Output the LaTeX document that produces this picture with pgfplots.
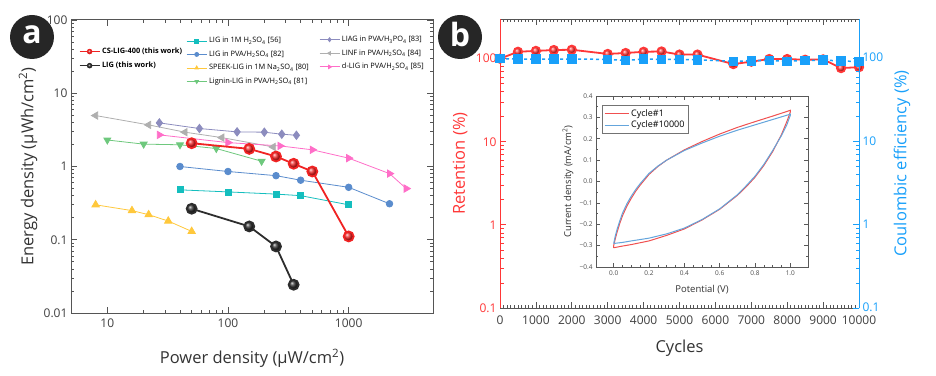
\documentclass[border=0pt]{standalone}
\usepackage{pgfplots}
\pgfplotsset{compat=1.18}
\usepackage{fontspec}
\setmainfont{Open Sans}
\definecolor{cRed}{RGB}{240,35,35}
\definecolor{cBlk}{RGB}{45,45,45}
\definecolor{cCyan}{RGB}{20,190,190}
\definecolor{cBlue}{RGB}{90,140,205}
\definecolor{cYel}{RGB}{255,200,60}
\definecolor{cGreen}{RGB}{110,200,125}
\definecolor{cPur}{RGB}{140,140,190}
\definecolor{cGray}{RGB}{175,175,175}
\definecolor{cPink}{RGB}{255,110,200}
\definecolor{bRed}{RGB}{255,55,55}
\definecolor{bBlue}{RGB}{25,160,250}
\definecolor{axGray}{RGB}{85,85,85}
\definecolor{cvRed}{RGB}{240,80,80}
\definecolor{cvBlue}{RGB}{100,165,220}
\begin{document}
\begin{tikzpicture}[x=1pt,y=1pt]
\useasboundingbox (0,0) rectangle (936,375);
% ---- panel a: literature series, legend 2
\begin{axis}[at={(71pt,62pt)}, anchor=south west, scale only axis,
    width=362pt, height=293pt, xmode=log, ymode=log,
    xmin=5, xmax=5000, ymin=0.01, ymax=100, hide axis,
  legend style={draw=none, fill=none, inner sep=0pt, row sep=2.6pt,
    font=\fontsize{7.4}{8}\selectfont, cells={anchor=west},
    at={(axis description cs:0.318,0.948)}, anchor=north west},
  legend image code/.code={\draw[mark repeat=2,mark phase=2] plot coordinates {(0pt,0pt) (10pt,0pt) (20pt,0pt)};},
  every legend image post/.style={mark size=2pt}]
\addplot[cCyan, line width=0.8pt, mark=square*, mark size=3pt] coordinates {(40,0.48) (100,0.45) (250,0.42) (400,0.40) (1000,0.30)};
\addlegendentry{LIG in 1M H\textsubscript{2}SO\textsubscript{4} [56]}
\addplot[cBlue, line width=0.8pt, mark=*, mark size=3.3pt] coordinates {(40,1.0) (100,0.855) (250,0.75) (400,0.65) (1000,0.52) (2180,0.31)};
\addlegendentry{LIG in PVA/H\textsubscript{2}SO\textsubscript{4} [82]}
\addplot[cYel, line width=0.8pt, mark=triangle*, mark size=4.3pt] coordinates {(8,0.30) (16,0.25) (22,0.22) (32,0.18) (50,0.13)};
\addlegendentry{SPEEK-LIG in 1M Na\textsubscript{2}SO\textsubscript{4} [80]}
\addplot[cGreen, line width=0.8pt, mark=triangle*, mark size=4pt, mark options={rotate=180}] coordinates {(10,2.3) (20,2.02) (40,1.98) (80,1.76) (190,1.18)};
\addlegendentry{Lignin-LIG in PVA/H\textsubscript{2}SO\textsubscript{4} [81]}
\end{axis}
% ---- legend 3
\begin{axis}[at={(71pt,62pt)}, anchor=south west, scale only axis,
    width=362pt, height=293pt, xmode=log, ymode=log,
    xmin=5, xmax=5000, ymin=0.01, ymax=100, hide axis,
  legend style={draw=none, fill=none, inner sep=0pt, row sep=2.6pt,
    font=\fontsize{7.4}{8}\selectfont, cells={anchor=west},
    at={(axis description cs:0.685,0.952)}, anchor=north west},
  legend image code/.code={\draw[mark repeat=2,mark phase=2] plot coordinates {(0pt,0pt) (10pt,0pt) (20pt,0pt)};},
  every legend image post/.style={mark size=2pt}]
\addplot[cPur, line width=0.8pt, mark=diamond*, mark size=4.2pt] coordinates {(27,3.94) (58,3.3) (119,2.97) (200,2.94) (279,2.76) (369,2.67)};
\addlegendentry{LIAG in PVA/H\textsubscript{3}PO\textsubscript{4} [83]}
\addplot[cGray, line width=0.8pt, mark=triangle*, mark size=4.2pt, mark options={rotate=90}] coordinates {(8,4.96) (22,3.7) (44,2.94) (89,2.48) (237,1.85)};
\addlegendentry{LINF in PVA/H\textsubscript{2}SO\textsubscript{4} [84]}
\addplot[cPink, line width=0.8pt, mark=triangle*, mark size=4.2pt, mark options={rotate=-90}] coordinates {(27,2.70) (100,2.12) (270,1.91) (500,1.69) (1000,1.30) (2180,0.80) (3000,0.50)};
\addlegendentry{d-LIG in PVA/H\textsubscript{2}SO\textsubscript{4} [85]}
\end{axis}
% ---- main axis a
\begin{axis}[at={(71pt,62pt)}, anchor=south west, scale only axis,
    width=362pt, height=293pt, xmode=log, ymode=log,
    xmin=5, xmax=5000, ymin=0.01, ymax=100,
  legend style={draw=none, fill=none, inner sep=0pt, row sep=3pt,
    font=\fontsize{7.4}{8}\selectfont\bfseries, cells={anchor=west},
    at={(axis description cs:0.022,0.912)}, anchor=north west},
  legend image code/.code={\draw[mark repeat=2,mark phase=2] plot coordinates {(0pt,0pt) (10pt,0pt) (20pt,0pt)};},
  every legend image post/.style={mark size=2.3pt, line width=0.9pt},
  xtick={10,100,1000}, xticklabels={10,100,1000},
  ytick={0.01,0.1,1,10,100}, yticklabels={0.01,0.1,1,10,100},
  tick align=inside, axis line style={draw=axGray, line width=1pt},
  tick style={axGray, line width=0.8pt}, major tick length=6pt, minor tick length=3.5pt,
  ticklabel style={font=\fontsize{12}{13}\selectfont, text=black!75},
  xticklabel style={yshift=-2pt},
  every axis x label/.style={at={(axis description cs:0.5,0)}, anchor=center, yshift=-45pt},
  every axis y label/.style={at={(axis description cs:0,0.5)}, xshift=-43pt, rotate=90, anchor=center},
  label style={font=\fontsize{16.5}{18}\selectfont, text=black!80},
  xlabel={Power density (µW/cm\textsuperscript{2})},
  ylabel={Energy density (µWh/cm\textsuperscript{2})}]
\addplot[cRed, line width=1.8pt, mark=ball, mark size=5pt, mark options={ball color=cRed}] coordinates {(50,2.08) (150,1.74) (250,1.37) (350,1.09) (500,0.855) (1000,0.111)};
\addlegendentry{CS-LIG-400 (this work)}
\addplot[cBlk, line width=1.8pt, mark=ball, mark size=5pt, mark options={ball color=cBlk}] coordinates {(50,0.265) (150,0.152) (250,0.081) (350,0.0243)};
\addlegendentry{LIG (this work)}
\end{axis}
% ---- panel b: retention
\begin{axis}[at={(500pt,67pt)}, anchor=south west, scale only axis,
  width=359pt, height=289pt, xmin=0, xmax=10000, ymode=log, ymin=0.1, ymax=300,
  axis y line*=left, scaled x ticks=false,
  xtick={0,1000,2000,3000,4000,5000,6000,7000,8000,9000,10000},
  xticklabels={0,1000,2000,3000,4000,5000,6000,7000,8000,9000,10000},
  minor x tick num=9,
  ytick={0.1,1,10,100}, yticklabels={0.1,1,10,100},
  tick align=inside, major tick length=6pt, minor tick length=3.5pt,
  x axis line style={draw=axGray, line width=1pt},
  y axis line style={draw=bRed, line width=1pt},
  every x tick/.append style={axGray, line width=0.8pt},
  every y tick/.append style={bRed, line width=0.8pt},
  xticklabel style={font=\fontsize{12}{13}\selectfont, text=black!75, yshift=-4pt},
  yticklabel style={font=\fontsize{12}{13}\selectfont, text=bRed},
  every axis x label/.style={at={(axis description cs:0.5,0)}, anchor=center, yshift=-40pt},
  every axis y label/.style={at={(axis description cs:0,0.5)}, xshift=-40pt, rotate=90, anchor=center},
  xlabel style={font=\fontsize{16.5}{18}\selectfont, text=black!80},
  ylabel style={font=\fontsize{16.5}{18}\selectfont, text=bRed},
  xlabel={Cycles}, ylabel={Retention (\%)}]
\addplot[bRed, line width=1.8pt, mark=ball, mark size=4.2pt, mark options={ball color=bRed}] coordinates {
(0,100) (500,121) (1000,124) (1500,127) (2000,128) (3000,114) (3500,117) (4000,121) (4500,122) (5000,112) (5500,112) (6500,86) (7000,92) (7500,99) (8000,99) (8500,97) (9000,98) (9500,77) (10000,79)};
\end{axis}
% ---- panel b: coulombic efficiency
\begin{axis}[at={(500pt,67pt)}, anchor=south west, scale only axis,
  width=359pt, height=289pt, xmin=0, xmax=10000, ymode=log, ymin=0.1, ymax=300,
  axis y line*=right, axis x line=none, scaled x ticks=false,
  ytick={0.1,1,10,100}, yticklabels={0.1,1,10,100},
  tick align=inside, major tick length=6pt, minor tick length=3.5pt,
  y axis line style={draw=bBlue, line width=1pt},
  every y tick/.append style={bBlue, line width=0.8pt},
  yticklabel style={font=\fontsize{12}{13}\selectfont, text=bBlue, yshift=1pt},
  every axis y label/.style={at={(axis description cs:1,0.5)}, xshift=43pt, rotate=90, anchor=center},
  ylabel style={font=\fontsize{16.5}{18}\selectfont, text=bBlue},
  ylabel={Coulombic efficiency (\%)}]
\addplot[bBlue, line width=1.5pt, dashed, mark=square*, mark size=4pt, mark options={solid}] coordinates {
(0,100) (500,99) (1000,99) (1500,99) (2000,99) (3000,98) (3500,95) (4000,99) (4500,98) (5000,98) (5500,97) (6500,93) (7000,94) (7500,95) (8000,93) (8500,95) (9000,96) (9500,94) (10000,92)};
\end{axis}
% ---- inset CV
\begin{axis}[at={(596pt,108pt)}, anchor=south west, scale only axis,
  width=212pt, height=171pt, xmin=-0.1, xmax=1.1, ymin=-0.4, ymax=0.4,
  axis background/.style={fill=white},
  xtick={0,0.2,0.4,0.6,0.8,1.0}, xticklabels={0.0,0.2,0.4,0.6,0.8,1.0},
  ytick={-0.4,-0.3,-0.2,-0.1,0,0.1,0.2,0.3,0.4},
  yticklabels={−0.4,−0.3,−0.2,−0.1,0.0,0.1,0.2,0.3,0.4},
  minor x tick num=3, minor y tick num=1,
  tick align=inside, major tick length=4pt, minor tick length=2pt,
  axis line style={draw=black!65, line width=0.8pt},
  tick style={black!65, line width=0.6pt},
  ticklabel style={font=\fontsize{6.5}{7}\selectfont, text=black!70},
  every axis x label/.style={at={(axis description cs:0.5,0)}, anchor=center, yshift=-23pt},
  every axis y label/.style={at={(axis description cs:0,0.5)}, xshift=-28pt, rotate=90, anchor=center},
  label style={font=\fontsize{9.5}{11}\selectfont, text=black!80},
  xlabel={Potential (V)}, ylabel={Current density (mA/cm\textsuperscript{2})},
  legend style={at={(axis description cs:0.028,0.947)}, anchor=north west,
    draw=black!55, fill=white, font=\fontsize{9}{10}\selectfont, inner sep=2pt, row sep=-0.5pt, cells={anchor=west}},
  legend image code/.code={\draw (0pt,0pt) -- (24pt,0pt);}]
\addplot[cvRed, line width=1pt] coordinates {
(0,-0.31) (0.05,-0.302) (0.1,-0.295) (0.2,-0.278) (0.3,-0.252) (0.4,-0.222) (0.5,-0.18) (0.6,-0.13) (0.7,-0.065) (0.75,-0.025) (0.8,0.02) (0.85,0.075) (0.9,0.14) (0.95,0.22) (0.98,0.28) (1.0,0.325)
(1.0,0.333) (0.9,0.306) (0.8,0.28) (0.7,0.253) (0.6,0.222) (0.5,0.187) (0.4,0.148) (0.3,0.1) (0.25,0.07) (0.2,0.033) (0.15,-0.017) (0.125,-0.045) (0.1,-0.078) (0.075,-0.115) (0.05,-0.16) (0.035,-0.195) (0.02,-0.235) (0.01,-0.265) (0,-0.3) (0,-0.31)};
\addlegendentry{Cycle\#1}
\addplot[cvBlue, line width=1pt] coordinates {
(0,-0.29) (0.05,-0.285) (0.1,-0.278) (0.2,-0.265) (0.3,-0.245) (0.4,-0.218) (0.5,-0.178) (0.6,-0.128) (0.7,-0.062) (0.75,-0.02) (0.8,0.025) (0.85,0.08) (0.9,0.145) (0.95,0.215) (0.98,0.265) (1.0,0.31)
(1.0,0.315) (0.9,0.29) (0.8,0.265) (0.7,0.24) (0.6,0.212) (0.5,0.18) (0.4,0.145) (0.3,0.1) (0.25,0.072) (0.2,0.038) (0.15,-0.01) (0.125,-0.037) (0.1,-0.068) (0.075,-0.104) (0.05,-0.148) (0.035,-0.183) (0.02,-0.222) (0.01,-0.252) (0,-0.29)};
\addlegendentry{Cycle\#10000}
\end{axis}
% ---- panel labels
\fill[black!85] (32,338) circle (22);
\node[text=white, font=\fontsize{32}{32}\selectfont\bfseries] at (32,340) {a};
\fill[black!85] (460,338) circle (22);
\node[text=white, font=\fontsize{32}{32}\selectfont\bfseries] at (460,340) {b};
\end{tikzpicture}
\end{document}
